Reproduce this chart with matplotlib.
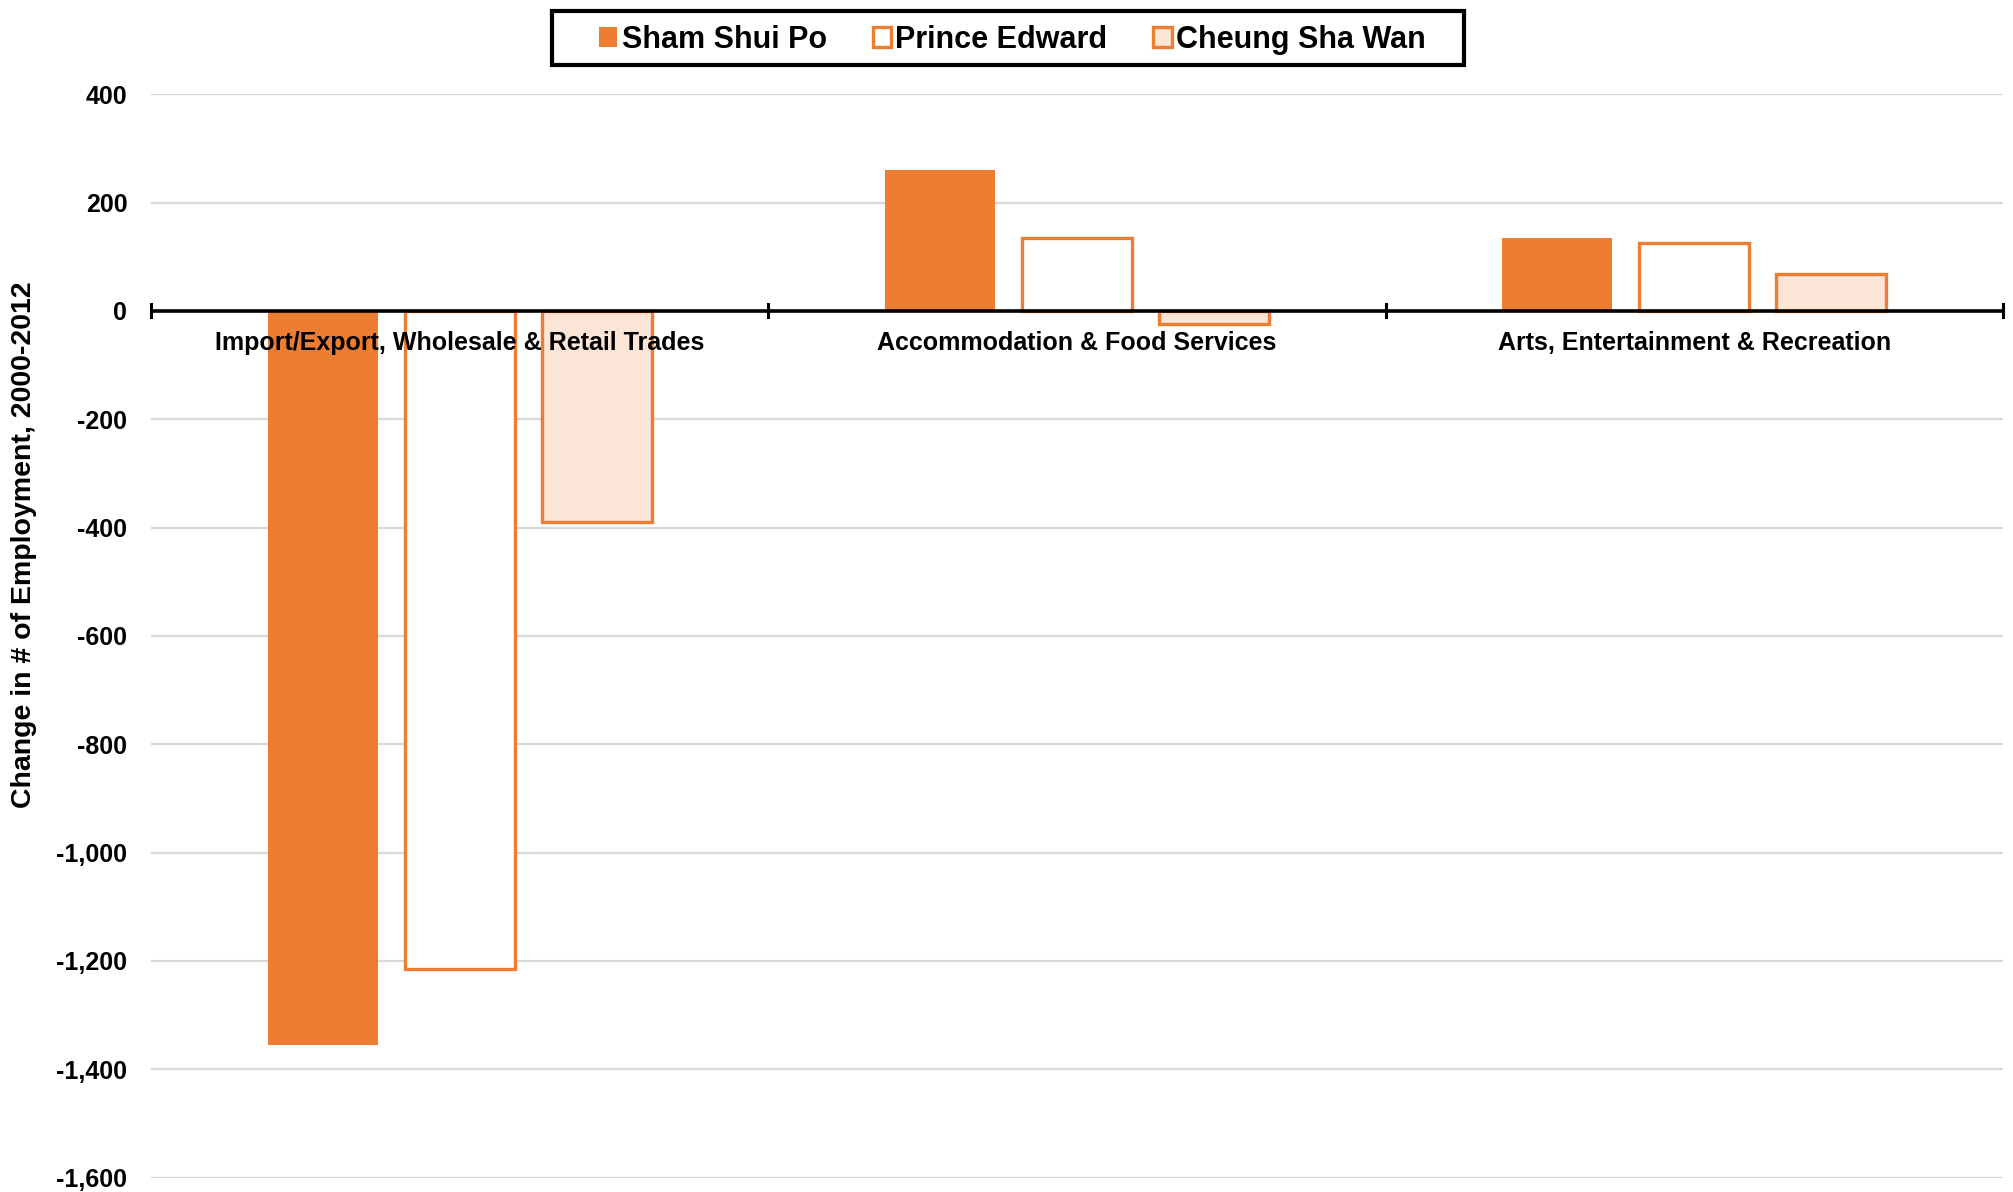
import matplotlib
matplotlib.use("Agg")
import matplotlib.pyplot as plt
from matplotlib.ticker import FuncFormatter
from matplotlib.patches import Patch, Rectangle

categories = ["Import/Export, Wholesale & Retail Trades",
              "Accommodation & Food Services",
              "Arts, Entertainment & Recreation"]
series_names = ["Sham Shui Po", "Prince Edward", "Cheung Sha Wan"]
sham_shui_po = [-1355, 260, 135]
prince_edward = [-1215, 135, 125]
cheung_sha_wan = [-390, -25, 68]
yticks = [400, 200, 0, -200, -400, -600, -800, -1000, -1200, -1400, -1600]

ORANGE = "#ED7D31"
PEACH = "#FBE5D6"

plt.rcParams['font.family'] = ['Liberation Sans', 'DejaVu Sans']
plt.rcParams['font.weight'] = 'bold'

fig = plt.figure(figsize=(20.13, 11.92), dpi=100)
ax = fig.add_axes([0.075, 0.012, 0.92, 0.909])

x = list(range(len(categories)))
w = 0.178
step = 0.222
styles = [dict(facecolor=ORANGE, edgecolor=ORANGE, linewidth=0),
          dict(facecolor="white", edgecolor=ORANGE, linewidth=2.4),
          dict(facecolor=PEACH, edgecolor=ORANGE, linewidth=2.4)]
data = [sham_shui_po, prince_edward, cheung_sha_wan]
for k, (vals, st) in enumerate(zip(data, styles)):
    ax.bar([xi + (k - 1) * step for xi in x], vals, width=w, zorder=3, **st)

ax.set_xlim(-0.5, len(categories) - 0.5)
ax.set_ylim(-1600, 400)
ax.set_yticks(yticks)
ax.yaxis.set_major_formatter(FuncFormatter(lambda v, p: f"{int(v):,}".replace("\u2212", "-")))
ax.tick_params(axis='y', length=0, pad=17, labelsize=18)
for lab in ax.get_yticklabels():
    lab.set_fontweight('bold')
ax.grid(axis='y', color="#d9d9d9", linewidth=1.6, zorder=0)
ax.set_xticks([])
for s in ax.spines.values():
    s.set_visible(False)

# zero axis line
ax.axhline(0, color="black", linewidth=2.6, zorder=4)
for b in [-0.5, 0.5, 1.5, 2.5]:
    ax.plot([b, b], [-12, 12], color="black", linewidth=2.2, zorder=4, clip_on=False)

for xi, c in zip(x, categories):
    ax.annotate(c, xy=(xi, 0), xytext=(0, -23), textcoords='offset points',
                ha='center', va='center', fontsize=18, fontweight='bold', zorder=5)

fig.text(0.012, 0.543, "Change in # of Employment, 2000-2012", rotation=90,
         ha='center', va='center', fontsize=20.5, fontweight='bold')

handles = [Patch(facecolor=ORANGE, edgecolor=ORANGE, linewidth=0),
           Patch(facecolor="white", edgecolor=ORANGE, linewidth=2.4),
           Patch(facecolor=PEACH, edgecolor=ORANGE, linewidth=2.4)]
leg = fig.legend(handles, series_names, loc='center', bbox_to_anchor=(0.5029, 0.9668),
                 ncol=3, fontsize=22, frameon=False,
                 handlelength=0.6, handleheight=0.6, handletextpad=0.15,
                 columnspacing=1.5, borderpad=0.0, borderaxespad=0)
for t in leg.get_texts():
    t.set_fontweight('bold')

fig.patches.append(Rectangle((0.2742, 0.9455), 0.7273 - 0.2742, 0.9905 - 0.9455,
                             transform=fig.transFigure, facecolor="none",
                             edgecolor="black", linewidth=3.0))

fig.savefig("out.png", dpi=100)
